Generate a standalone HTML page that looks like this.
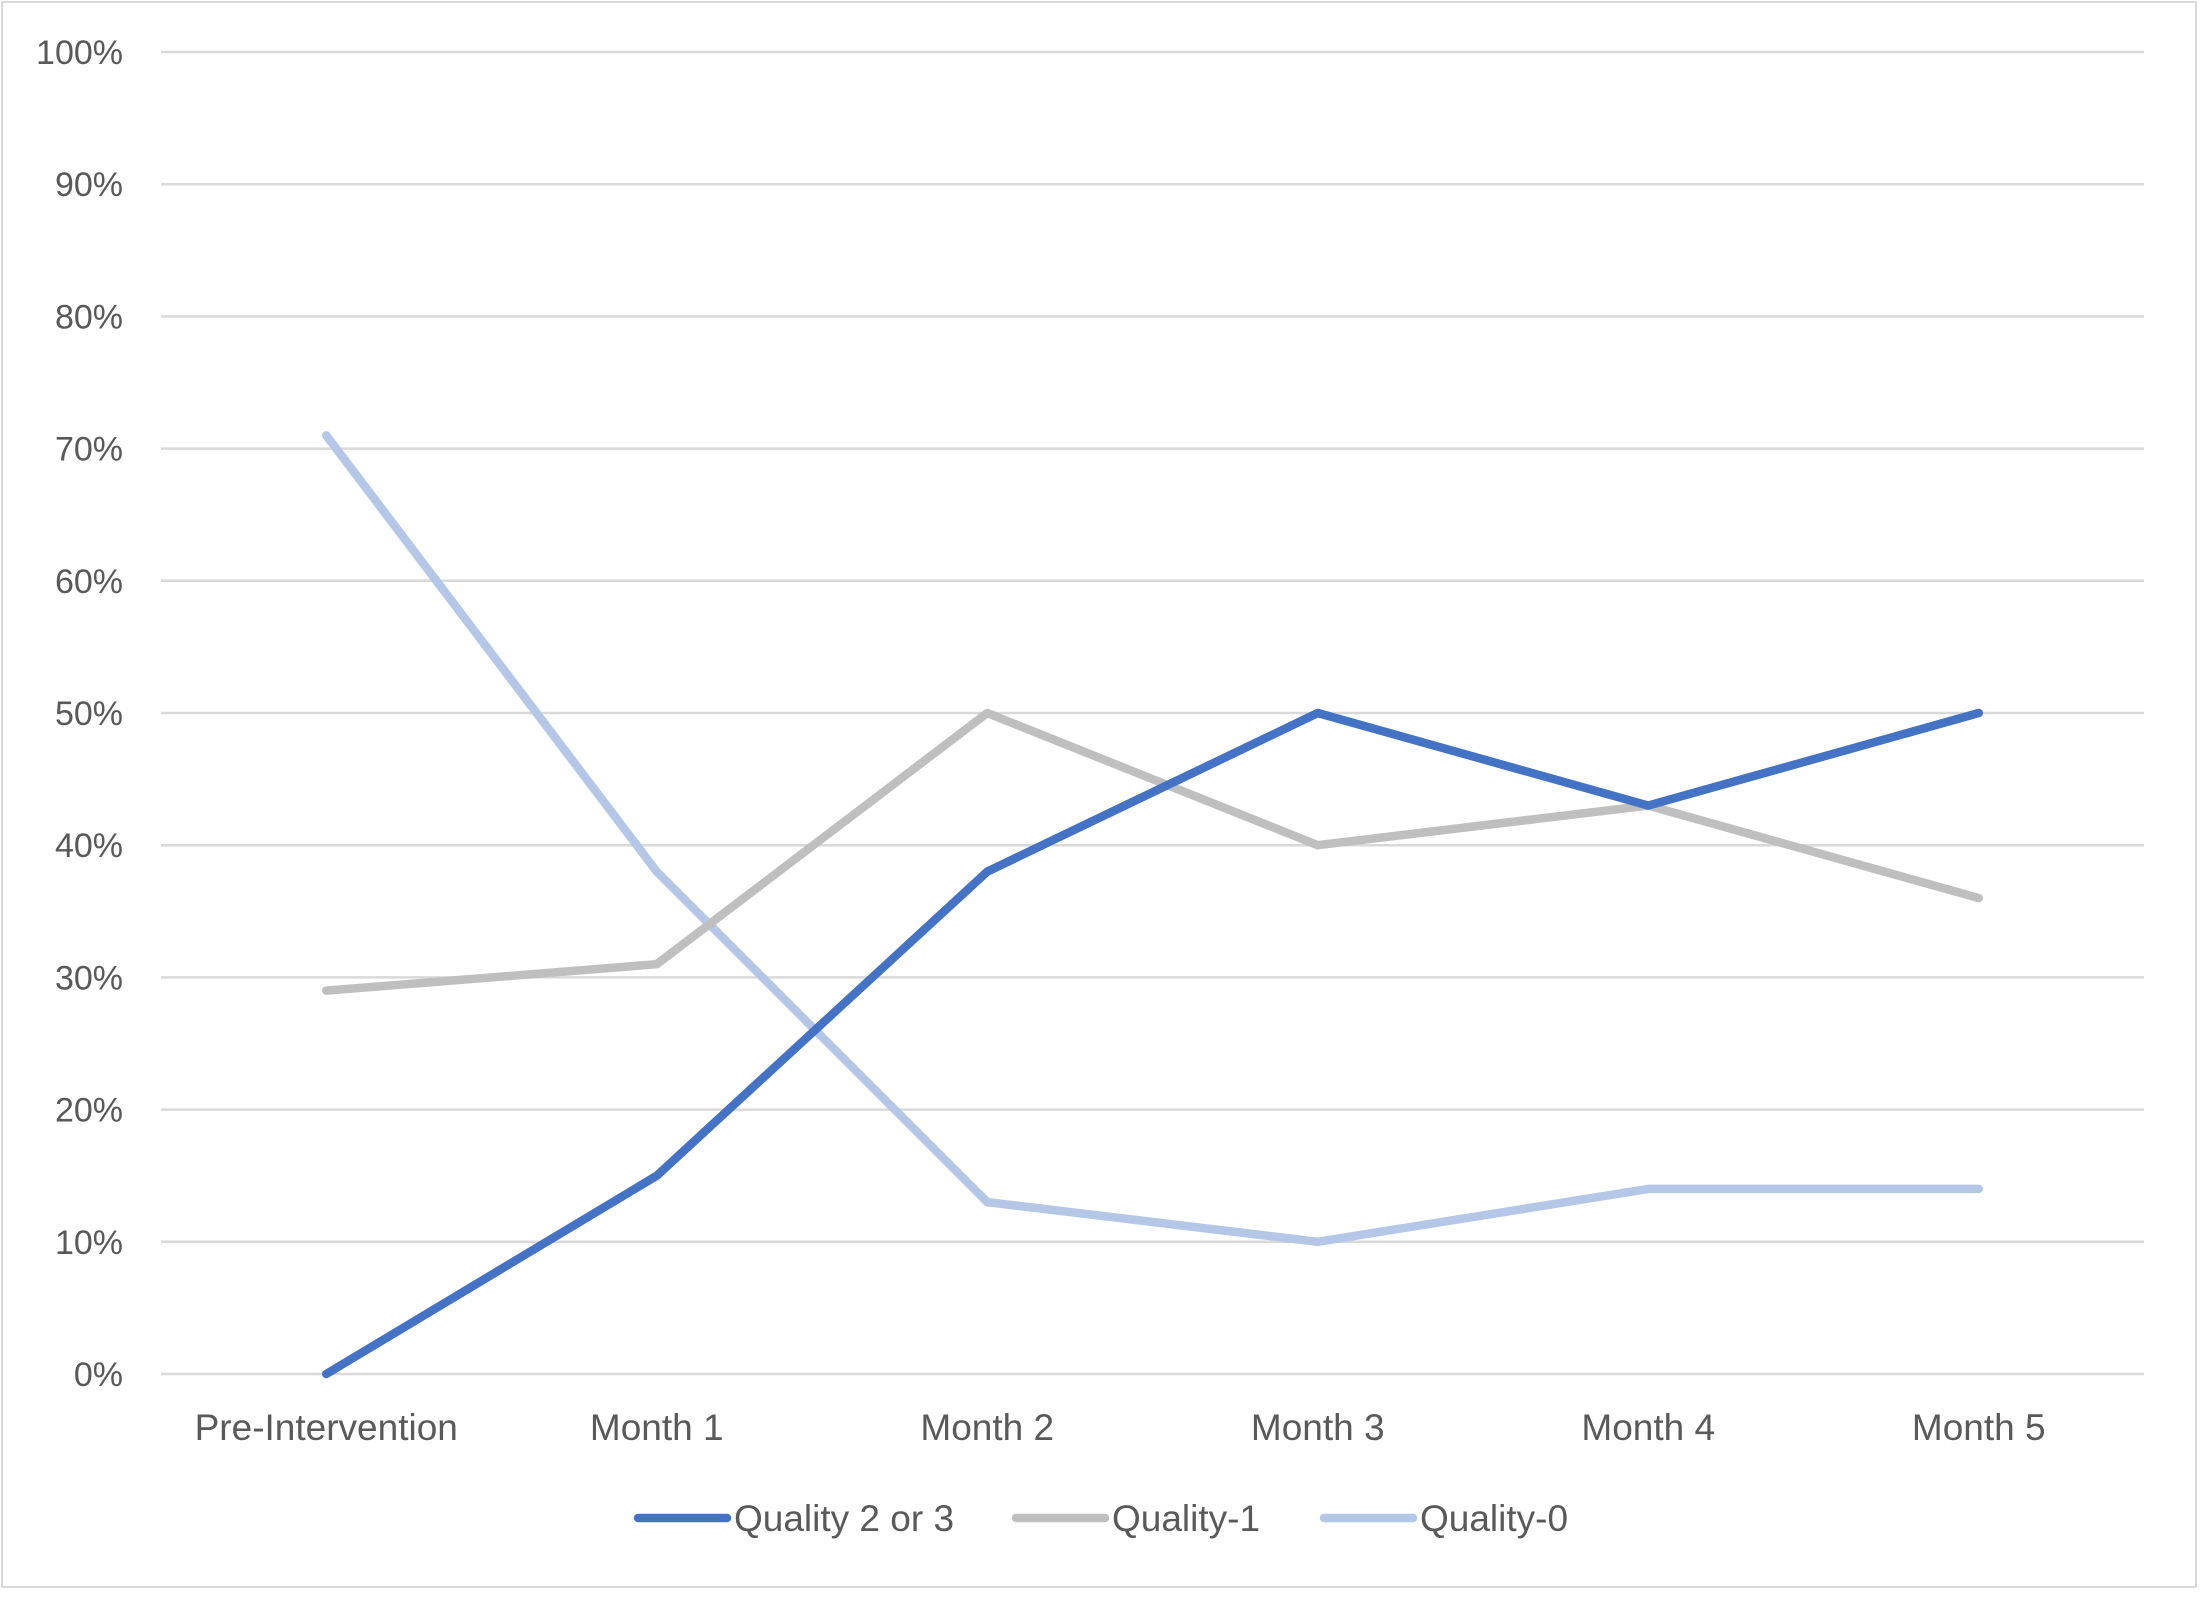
<!DOCTYPE html>
<html><head><meta charset="utf-8"><style>
body{margin:0;background:#fff}
svg text{font-family:"Liberation Sans",sans-serif;fill:#595959}
</style></head><body>
<svg id="chart" width="2200" height="1595" xmlns="http://www.w3.org/2000/svg">
<rect x="2" y="2" width="2194" height="1585" fill="#fff" stroke="#d9d9d9" stroke-width="2"/>
<g id="grid"></g><g id="yt"></g><g id="xt"></g><g id="series"></g><g id="legend"></g>
</svg>
<script>
const categories=["Pre-Intervention","Month 1","Month 2","Month 3","Month 4","Month 5"];
const q23=[0,15,38,50,43,50];
const q1=[29,31,50,40,43,36];
const q0=[71,38,13,10,14,14];
const yTicks=[0,10,20,30,40,50,60,70,80,90,100];
const seriesNames=["Quality 2 or 3","Quality-1","Quality-0"];
const NS="http://www.w3.org/2000/svg";
const L=161,R=2144,T=52,B=1374;
const bw=(R-L)/categories.length;
const x=i=>L+bw*(i+0.5);
const y=v=>B-(B-T)*v/100;
function mk(tag,attrs,parent){const e=document.createElementNS(NS,tag);for(const k in attrs)e.setAttribute(k,attrs[k]);document.getElementById(parent).appendChild(e);return e;}
yTicks.forEach(t=>{
  const g=mk('line',{x1:L,x2:R,y1:y(t),y2:y(t),stroke:'#d9d9d9','stroke-width':2.5},'grid');
  
  
  const tx=mk('text',{x:123,y:y(t)+12,'text-anchor':'end','font-size':34},'yt');
  tx.textContent=t+'%';
  
  
});
categories.forEach((c,i)=>{
  const tx=mk('text',{x:x(i),y:1440,'text-anchor':'middle','font-size':37},'xt');
  tx.textContent=c;
  
  
});
const colors=["#4472C4","#BFBFBF","#B4C7E7"];
const data=[q23,q1,q0];
[2,1,0].forEach(s=>{
  const p=mk('polyline',{points:data[s].map((v,i)=>x(i)+','+y(v)).join(' '),fill:'none',stroke:colors[s],'stroke-width':8.5,'stroke-linecap':'round','stroke-linejoin':'round'},'series');
  
  
});
const lx=[638,1016,1324];
seriesNames.forEach((n,s)=>{
  const l=mk('line',{x1:lx[s],x2:lx[s]+89,y1:1518,y2:1518,stroke:colors[s],'stroke-width':8.5,'stroke-linecap':'round'},'legend');
  
  
  const t=mk('text',{x:lx[s]+96,y:1531,'font-size':37},'legend');
  t.textContent=n;
  
  
});
</script>
</body></html>
